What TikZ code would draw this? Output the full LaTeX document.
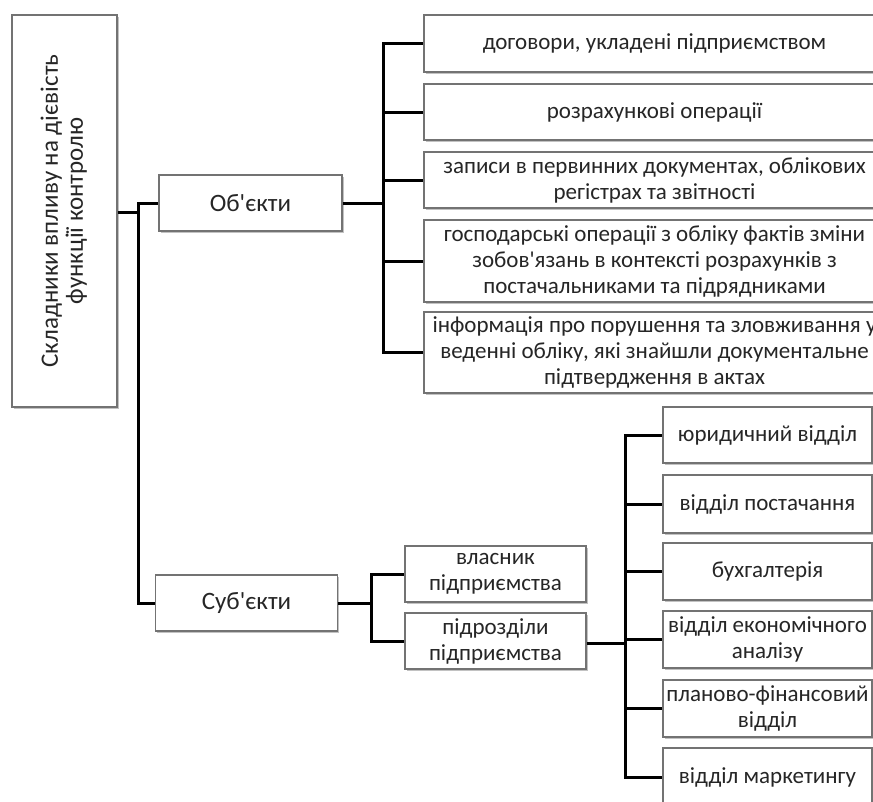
\documentclass[tikz,border=0pt]{standalone}
\usepackage{fontspec}
\setmainfont{Carlito}[Ligatures=TeXOff]
\usetikzlibrary{shadows}
\begin{document}
\begin{tikzpicture}[x=1pt,y=-1pt,
  box/.style={draw=black!55, line width=1.1pt, fill=white, text=black!85,
    inner sep=0pt, align=center, font=\fontsize{23}{26}\selectfont,
    drop shadow={shadow xshift=1.5pt, shadow yshift=-1.8pt, fill=black!40, opacity=0.6}},
  big/.style={font=\fontsize{25}{29}\selectfont},
  wire/.style={line width=3pt, black}]
\useasboundingbox (0,0) rectangle (873,801);
\clip (0,0) rectangle (873,801);
% main
\node[box, big, minimum width=105, minimum height=392] (main) at (64.5,211)
  {\rotatebox{90}{\begin{tabular}{@{}c@{}}Складники впливу на дієвість\\[-4pt] функції контролю\end{tabular}}};
% level 1
\node[box, big, minimum width=183, minimum height=56] (obj) at (250.5,203) {Об'єкти};
\node[box, big, minimum width=182, minimum height=56] (sub) at (246.5,603) {Суб'єкти};
% objects
\node[box, minimum width=461, minimum height=57] (o1) at (654.5,43.5) {договори, укладені підприємством};
\node[box, minimum width=461, minimum height=56] (o2) at (654.5,112) {розрахункові операції};
\node[box, minimum width=461, minimum height=56] (o3) at (654.5,180) {записи в первинних документах, облікових\\ регістрах та звітності};
\node[box, minimum width=461, minimum height=82] (o4) at (654.5,261) {господарські операції з обліку фактів зміни\\ зобов'язань в контексті розрахунків з\\ постачальниками та підрядниками};
\node[box, minimum width=461, minimum height=81] (o5) at (654.5,352.5) {інформація про порушення та зловживання у\\ веденні обліку, які знайшли документальне\\ підтвердження в актах};
% subjects
\node[box, minimum width=181, minimum height=56] (s1) at (495.5,574) {власник\\ підприємства};
\node[box, minimum width=181, minimum height=56] (s2) at (495.5,641) {підрозділи\\ підприємства};
% departments
\node[box, minimum width=209, minimum height=56] (d1) at (767.5,435) {юридичний відділ};
\node[box, minimum width=209, minimum height=58] (d2) at (767.5,504) {відділ постачання};
\node[box, minimum width=209, minimum height=57] (d3) at (767.5,571.5) {бухгалтерія};
\node[box, minimum width=209, minimum height=57] (d4) at (767.5,639.5) {відділ економічного\\ аналізу};
\node[box, minimum width=209, minimum height=57] (d5) at (767.5,708.5) {планово-фінансовий\\ відділ};
\node[box, minimum width=209, minimum height=58] (d6) at (767.5,777) {відділ маркетингу};
% connectors
\coordinate (j0) at (138,212);
\draw[wire] (main.east |- j0) -- (j0);
\draw[wire] (j0) -- (138,203) -- (obj.west);
\draw[wire] (j0) |- (sub.west);
\coordinate (jo) at (383,203);
\draw[wire] (obj.east) -- (jo);
\foreach \n in {o1,o2,o3,o4,o5} \draw[wire] (jo) |- (\n.west);
\coordinate (js) at (371,603);
\draw[wire] (sub.east) -- (js);
\foreach \n in {s1,s2} \draw[wire] (js) |- (\n.west);
\coordinate (jd) at (625,643);
\draw[wire] (s2.east |- jd) -- (jd);
\foreach \n in {d1,d2,d3,d4,d5,d6} \draw[wire] (jd) |- (\n.west);
\end{tikzpicture}
\end{document}
